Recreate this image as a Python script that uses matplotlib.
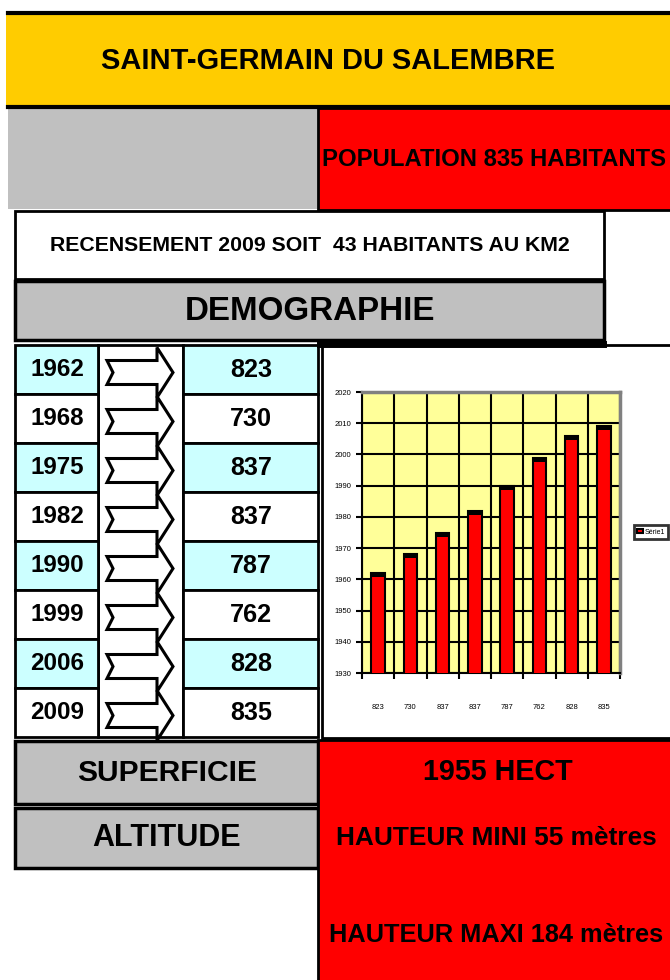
import matplotlib
matplotlib.use("Agg")
import matplotlib.pyplot as plt
from matplotlib.patches import Rectangle, Polygon
import numpy as np

# data
annees = [1962, 1968, 1975, 1982, 1990, 1999, 2006, 2009]
habitants = [823, 730, 837, 837, 787, 762, 828, 835]
titre = "SAINT-GERMAIN DU SALEMBRE"
population = "POPULATION 835 HABITANTS"
recensement = "RECENSEMENT 2009 SOIT  43 HABITANTS AU KM2"
superficie = "1955 HECT"
alt_mini = "HAUTEUR MINI 55 mètres"
alt_maxi = "HAUTEUR MAXI 184 mètres"

plt.rcParams['font.family'] = ['Liberation Sans Narrow', 'Liberation Sans', 'DejaVu Sans']

W, H = 670, 980
fig = plt.figure(figsize=(W / 100, H / 100), dpi=100)
bg = fig.add_axes([0, 0, 1, 1])
bg.set_xlim(0, W)
bg.set_ylim(H, 0)
bg.axis('off')

renderer = fig.canvas.get_renderer()


def box(x0, y0, x1, y1, fc, lw=2.0, ec='black'):
    bg.add_patch(Rectangle((x0, y0), x1 - x0, y1 - y0, facecolor=fc,
                           edgecolor=ec, linewidth=lw))


def label(x, y, s, width):
    # fit the text to a given pixel width
    t = bg.text(x, y, s, ha='center', va='center', fontweight='bold', fontsize=10)
    w = t.get_window_extent(renderer).width
    t.set_fontsize(10 * width / w)
    return t


# header
bg.add_patch(Rectangle((6, 14), W, 92, facecolor='#FFCC00', linewidth=0))
bg.plot([8, W], [13, 13], color='black', lw=3)
bg.plot([8, W], [107, 107], color='black', lw=3)
label(328, 61, titre, 450)
box(8, 109, 318, 209, '#C0C0C0', lw=0)
box(318, 108, W + 5, 210, '#FF0000', lw=2)
label(494, 160, population, 342)

box(15, 211, 604, 279, 'white', lw=2)
label(310, 245, recensement, 520)
box(15, 281, 604, 340, '#C0C0C0', lw=2.5)
label(310, 311, "DEMOGRAPHIE", 250)

# table
y_top, y_bot = 345, 737
rh = (y_bot - y_top) / len(annees)
box(98, y_top, 183, y_bot, 'white', lw=2)
for i, (a, h) in enumerate(zip(annees, habitants)):
    y0 = y_top + i * rh
    fc = '#CCFFFF' if i % 2 == 0 else 'white'
    box(15, y0, 98, y0 + rh, fc, lw=2)
    box(183, y0, 318, y0 + rh, fc, lw=2)
    label(57, y0 + rh / 2, str(a), 54)
    label(251, y0 + rh / 2, str(h), 42)
    cy = y0 + rh / 2 + 3
    pts = [(107, cy - 12), (157, cy - 12), (157, cy - 25), (173, cy),
           (157, cy + 25), (157, cy + 12), (107, cy + 12), (113, cy)]
    bg.add_patch(Polygon(pts, closed=True, facecolor='white',
                         edgecolor='black', linewidth=2.2))

# chart frame
box(322, 345, W + 5, 738, 'white', lw=2)
bg.plot([320, 603], [344, 344], color='black', lw=5)

# bottom
box(15, 741, 318, 804, '#C0C0C0', lw=2.5)
label(167, 773, "SUPERFICIE", 180)
box(15, 808, 318, 868, '#C0C0C0', lw=2.5)
label(167, 838, "ALTITUDE", 148)
box(318, 740, W + 5, H + 5, '#FF0000', lw=2)
label(498, 772, superficie, 150)
label(496, 838, alt_mini, 320)
label(496, 935, alt_maxi, 335)

# bar chart
ax = fig.add_axes([362 / W, 1 - 673 / H, 258 / W, 281 / H])
ax.set_facecolor('#FFFF99')
x = np.arange(len(annees))
bars = ax.bar(x, annees, width=0.42, color='#FF0000', edgecolor='black',
              linewidth=1.5, zorder=3, label='Série1')
ax.bar(x, [1.3] * len(annees), bottom=np.array(annees) - 1.3, width=0.42,
       color='black', zorder=4)
ax.set_ylim(1930, 2020)
ax.set_xlim(-0.5, len(annees) - 0.5)
ax.set_yticks(range(1930, 2021, 10))
ax.set_xticks(np.arange(len(annees) + 1) - 0.5)
ax.set_xticklabels([])
ax.set_xticks(x, minor=True)
ax.set_xticklabels([str(h) for h in habitants], minor=True)
ax.tick_params(axis='x', which='minor', length=0, pad=22, labelsize=5.5)
ax.tick_params(axis='x', which='major', length=4, width=1.5)
ax.tick_params(axis='y', length=4, width=1.5, labelsize=5.5, pad=4)
ax.grid(True, which='major', color='black', linewidth=1.5, zorder=1)
ax.set_axisbelow(True)
for s in ['left', 'bottom']:
    ax.spines[s].set_linewidth(1.5)
for s in ['top', 'right']:
    ax.spines[s].set_color('#808080')
    ax.spines[s].set_linewidth(2.5)

leg = fig.legend(handles=[bars], labels=['Série1'], loc='center',
                 bbox_to_anchor=(651 / W, 1 - 532 / H), fontsize=5,
                 frameon=True, fancybox=False, edgecolor='black',
                 handlelength=0.8, handletextpad=0.3, borderpad=0.5)
leg.get_frame().set_linewidth(2)

fig.savefig('out.png', dpi=100)
